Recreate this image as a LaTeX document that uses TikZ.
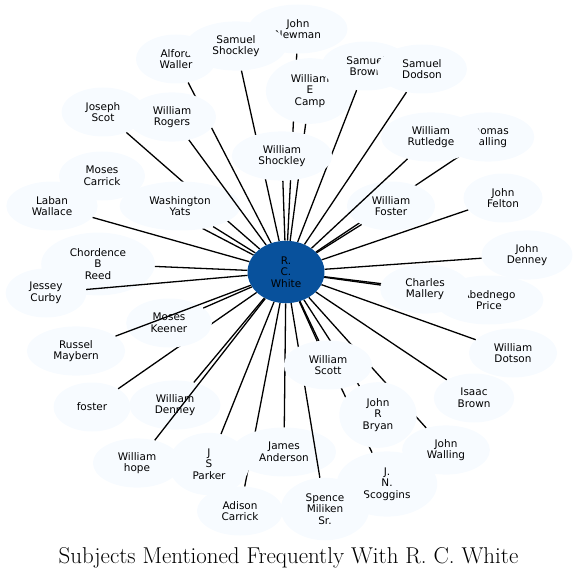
\documentclass[tikz,border=0pt]{standalone}
\usepackage{fontspec}
\usepackage{tikz}
\usetikzlibrary{shapes.geometric,positioning}
\newfontfamily\namefont{DejaVu Sans}
\definecolor{hubblue}{HTML}{08519C}
\definecolor{palefill}{HTML}{F7FBFF}
\pgfdeclarelayer{front}
\pgfsetlayers{main,front}
\tikzset{
  person/.style={ellipse, fill=palefill, draw=none, align=center,
    font=\namefont\fontsize{10.5}{11.7}\selectfont, text=black,
    inner xsep=12bp, inner ysep=6.5bp, minimum width=73.5bp, minimum height=49bp},
  hub/.style={person, fill=hubblue},
  link/.style={line width=1.3bp, black}
}

\begin{document}
\begin{tikzpicture}[x=1bp, y=-1bp]
\useasboundingbox (0,0) rectangle (578,578);
% Centre node, kept in front of every edge
\begin{pgfonlayer}{front}
\node[hub] (white) at (286,272) {R.\\C.\\White};
\end{pgfonlayer}

% Top
\node[person] (newman) at (298,29) {John\\Newman};
\draw[link] (white) -- (newman);
\node[person] (alford) at (176,59) {Alford\\Waller};
\draw[link] (white) -- (alford);
\node[person] (sshockley) at (236,46) {Samuel\\Shockley};
\draw[link] (white) -- (sshockley);
\node[person] (camp) at (310,91) {William\\E\\Camp};
\draw[link] (white) -- (camp);
\node[person] (sbrown) at (366,66) {Samuel\\Brown};
\draw[link] (white) -- (sbrown);
\node[person] (dodson) at (422,69) {Samuel\\Dodson};
\draw[link] (white) -- (dodson);
\node[person] (scot) at (103,112) {Joseph\\Scot};
\draw[link] (white) -- (scot);
\node[person] (carrick) at (102,176) {Moses\\Carrick};
\draw[link] (white) -- (carrick);
\node[person] (yats) at (180,206) {Washington\\Yats};
\draw[link] (white) -- (yats);
\node[person] (rogers) at (172,117) {William\\Rogers};
\draw[link] (white) -- (rogers);
\node[person] (wshockley) at (282,156) {William\\Shockley};
\draw[link] (white) -- (wshockley);

% Right
\node[person] (thomas) at (488,137) {Thomas\\Walling};
\draw[link] (white) -- (thomas);
\node[person] (foster) at (391,206) {William\\Foster};
\draw[link] (white) -- (foster);
\node[person] (rutledge) at (431,137) {William\\Rutledge};
\draw[link] (white) -- (rutledge);
\node[person] (felton) at (503,198) {John\\Felton};
\draw[link] (white) -- (felton);
\node[person] (jdenney) at (527,255) {John\\Denney};
\draw[link] (white) -- (jdenney);

% Left
\node[person] (laban) at (52,206) {Laban\\Wallace};
\draw[link] (white) -- (laban);
\node[person] (reed) at (98,264) {Chordence\\B\\Reed};
\draw[link] (white) -- (reed);
\node[person] (curby) at (46,293) {Jessey\\Curby};
\draw[link] (white) -- (curby);

% Right middle
\node[person] (price) at (489,300) {Abednego\\Price};
\draw[link] (white) -- (price);
\node[person] (mallery) at (425,289) {Charles\\Mallery};
\draw[link] (white) -- (mallery);

% Lower left
\node[person] (lfoster) at (92,407) {foster};
\draw[link] (white) -- (lfoster);
\node[person] (keener) at (169,323) {Moses\\Keener};
\draw[link] (white) -- (keener);
\node[person] (maybern) at (76,351) {Russel\\Maybern};
\draw[link] (white) -- (maybern);
\node[person] (wdenney) at (175,405) {William\\Denney};
\draw[link] (white) -- (wdenney);
\node[person] (hope) at (137,463) {William\\hope};
\draw[link] (white) -- (hope);

% Lower right
\node[person] (dotson) at (513,353) {William\\Dotson};
\draw[link] (white) -- (dotson);
\node[person] (ibrown) at (474,398) {Isaac\\Brown};
\draw[link] (white) -- (ibrown);

% Bottom
\node[person] (adison) at (240,511) {Adison\\Carrick};
\draw[link] (white) -- (adison);
\node[person] (parker) at (209,464) {J\\S\\Parker};
\draw[link] (white) -- (parker);
\node[person] (anderson) at (284,452) {James\\Anderson};
\draw[link] (white) -- (anderson);
\node[person] (scoggins) at (387,484) {J.\\N.\\Scoggins};
\draw[link] (white) -- (scoggins);
\node[person] (spence) at (325,509) {Spence\\Miliken\\Sr.};
\draw[link] (white) -- (spence);
\node[person] (jwalling) at (446,450) {John\\Walling};
\draw[link] (white) -- (jwalling);
\node[person] (bryan) at (378,415) {John\\R\\Bryan};
\draw[link] (white) -- (bryan);
\node[person] (scott) at (328,365) {William\\Scott};
\draw[link] (white) -- (scott);

% Title
\node[anchor=base, font=\fontsize{23}{27}\selectfont] (title) at (288.5,563) {Subjects Mentioned Frequently With R. C. White};
\end{tikzpicture}
\end{document}
